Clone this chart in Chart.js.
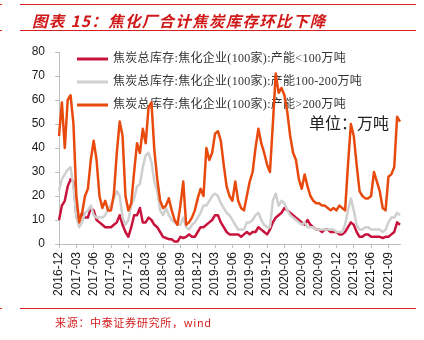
<!DOCTYPE html>
<html>
<head>
<meta charset="utf-8">
<script src="https://cdn.jsdelivr.net/npm/chart.js@4.4.1/dist/chart.umd.min.js"></script>
<style>
  body { margin: 0; background: #fff; }
  #wrap { position: relative; width: 424px; height: 340px; overflow: hidden; }
  #c { position: absolute; left: 0; top: 0; }
  .rule { position: absolute; left: 20px; width: 396px; height: 1.5px; background: #d42020; }
  .nub { position: absolute; left: 0; width: 2px; height: 1.5px; background: #d42020; }
  #title {
    position: absolute; left: 32px; top: 9px;
    font: italic bold 15.5px "Noto Sans CJK SC", sans-serif;
    letter-spacing: 1.3px; color: #d01818; white-space: nowrap;
  }
  #source {
    position: absolute; left: 55px; top: 314px;
    font: 11px "Noto Sans CJK SC", sans-serif;
    letter-spacing: 0.7px; color: #d42020; white-space: nowrap;
  }
</style>
</head>
<body>
<div id="wrap">
  <canvas id="c" width="424" height="340"></canvas>
  <div class="rule" style="top:3.5px"></div>
  <div class="rule" style="top:29.5px"></div>
  <div class="rule" style="top:307.5px"></div>
  <div class="nub" style="top:3.5px"></div>
  <div class="nub" style="top:29.5px"></div>
  <div class="nub" style="top:307.5px"></div>
  <div id="title">图表 15：焦化厂合计焦炭库存环比下降</div>
  <div id="source">来源：中泰证券研究所，wind</div>
</div>
<script>
  // series names (legend order)
  const seriesNames = [
    '焦炭总库存:焦化企业(100家):产能<100万吨',
    '焦炭总库存:焦化企业(100家):产能100-200万吨',
    '焦炭总库存:焦化企业(100家):产能>200万吨'
  ];

  // semi-monthly readings from 2016-12 to 2021-11, unit: 万吨
  const stockSmall = [
    10, 16, 18, 24, 27, 26, 12, 10, 13, 11,
    11, 15, 14, 10, 9, 8, 7, 7, 7, 8,
    9, 12, 8, 5, 3, 7, 12, 12, 15, 9,
    9, 11, 10, 8, 7, 5, 3, 2.5, 2, 2,
    1, 1, 3, 2.5, 3, 4, 3, 3, 5, 7,
    7, 8, 9, 10, 12, 12, 9, 7, 5, 4,
    4, 4, 4, 3, 4, 5, 4, 5, 5, 7,
    6, 5, 4, 6, 9, 11, 12, 13, 15, 14,
    13, 12, 11, 10, 9, 8, 10, 8, 7, 6,
    6, 5, 6, 6, 5, 5, 5, 4, 4, 5,
    7, 9, 8, 5, 3, 3, 4, 4, 3, 3,
    3, 3, 2.5, 3, 3, 4, 5, 9, 8
  ];
  const stockMid = [
    22, 27, 29, 31, 32, 24, 11, 7, 9, 13,
    14, 16, 12, 11, 11, 11, 12, 15, 16, 19,
    22, 20, 11, 8, 10, 16, 19, 24, 25, 32,
    37, 38, 34, 26, 22, 14, 12, 15, 12, 10,
    9, 8, 8, 11, 7, 6, 8, 9, 11, 13,
    16, 16, 18, 20, 21, 20, 17, 15, 13, 12,
    10, 8, 6, 6, 6, 9, 9, 10, 12, 13,
    10, 8, 7, 7, 18, 21, 16, 18, 17, 14,
    12, 11, 10, 9, 8, 9, 7, 7, 7, 6,
    6, 6, 6, 6, 6, 6, 5, 5, 5, 8,
    14, 19, 14, 8, 6, 6, 7, 7, 6, 6,
    6, 6, 5, 6, 9, 11, 11, 13, 12
  ];
  const stockLarge = [
    45, 59, 40, 60, 62, 50, 20, 9, 13, 20,
    23, 35, 43, 35, 20, 15, 18, 14, 14, 21,
    38, 51, 45, 20, 14, 17, 30, 42, 38, 48,
    42, 57, 59, 39, 27, 18, 15, 16, 19, 14,
    10, 8, 16, 26, 8, 9, 11, 14, 19, 23,
    20, 40, 35, 38, 46, 47, 43, 33, 24, 20,
    18, 26, 18, 15, 14, 20, 26, 30, 40, 48,
    42, 38, 33, 30, 50, 71, 63, 65, 62, 55,
    45, 38, 35, 27, 23, 29, 24, 20, 18, 17,
    17, 16, 16, 15, 14, 15, 14, 16, 15, 14,
    33, 50, 45, 33, 22, 20, 19, 19, 20, 30,
    26, 22, 15, 14, 28, 29, 32, 53, 51
  ];

  // x axis tick labels (quarterly)
  const quarterTicks = [
    '2016-12', '2017-03', '2017-06', '2017-09', '2017-12', '2018-03', '2018-06',
    '2018-09', '2018-12', '2019-03', '2019-06', '2019-09', '2019-12', '2020-03',
    '2020-06', '2020-09', '2020-12', '2021-03', '2021-06', '2021-09'
  ];

  // categories: 1st and 16th of each month from 2016-12
  const categories = stockLarge.map((v, i) => {
    const off = Math.floor(i / 2);
    const y = 2016 + Math.floor((11 + off) / 12);
    const m = (11 + off) % 12 + 1;
    return `${y}-${String(m).padStart(2, '0')}-${i % 2 ? '16' : '01'}`;
  });

  const colors = ['#c8143c', '#cfcfcf', '#e84a0e'];
  const axisGrey = '#bfbfbf';
  const tickFont = { family: '"Liberation Sans", Arial, sans-serif', size: 12 };

  // legend + unit text, drawn under the lines
  const legendPlugin = {
    id: 'insideLegend',
    beforeDatasetsDraw(chart) {
      const ctx = chart.ctx;
      ctx.save();
      chart.data.datasets.forEach((ds, k) => {
        const y = 59 + k * 23;
        ctx.strokeStyle = ds.borderColor;
        ctx.lineWidth = 3;
        ctx.beginPath();
        ctx.moveTo(77, y);
        ctx.lineTo(108, y);
        ctx.stroke();
        ctx.fillStyle = '#333';
        ctx.font = '12px "Liberation Serif", "Noto Sans CJK SC", serif';
        ctx.letterSpacing = '0.3px';
        ctx.textBaseline = 'middle';
        ctx.fillText(ds.label, 113, y);
      });
      ctx.letterSpacing = '0px';
      ctx.fillStyle = '#222';
      ctx.font = '16px "Noto Sans CJK SC", sans-serif';
      ctx.textBaseline = 'middle';
      ctx.fillText('单位：万吨', 309, 123);
      ctx.restore();
    }
  };

  const ctx = document.getElementById('c').getContext('2d');
  new Chart(ctx, {
    type: 'line',
    data: {
      labels: categories,
      datasets: [
        { label: seriesNames[0], data: stockSmall, borderColor: colors[0], order: 3 },
        { label: seriesNames[1], data: stockMid, borderColor: colors[1], order: 2 },
        { label: seriesNames[2], data: stockLarge, borderColor: colors[2], order: 1 }
      ]
    },
    options: {
      responsive: false,
      animation: false,
      layout: { padding: { top: 52, right: 24, left: 0, bottom: 0 } },
      elements: {
        point: { radius: 0 },
        line: { borderWidth: 2.5, tension: 0, borderJoinStyle: 'round', fill: false }
      },
      plugins: { legend: { display: false }, tooltip: { enabled: false } },
      scales: {
        x: {
          offset: false,
          afterFit(scale) { scale.height = 96; },
          border: { color: axisGrey, width: 1 },
          grid: { drawOnChartArea: false, drawTicks: true, tickLength: 4, color: axisGrey },
          ticks: {
            autoSkip: false,
            minRotation: 90,
            maxRotation: 90,
            padding: 4,
            color: '#1a1a1a',
            font: tickFont,
            callback(value, index) {
              const lab = categories[index];
              const ym = lab.slice(0, 7);
              if (lab.endsWith('-01') && quarterTicks.includes(ym)) return ym;
              return null;
            }
          }
        },
        y: {
          min: 0,
          max: 80,
          afterFit(scale) { scale.width = 59; },
          border: { color: axisGrey, width: 1 },
          grid: { drawOnChartArea: false, drawTicks: true, tickLength: 4, color: axisGrey },
          ticks: { stepSize: 10, padding: 10, color: '#1a1a1a', font: tickFont }
        }
      }
    },
    plugins: [legendPlugin]
  });
</script>
</body>
</html>
